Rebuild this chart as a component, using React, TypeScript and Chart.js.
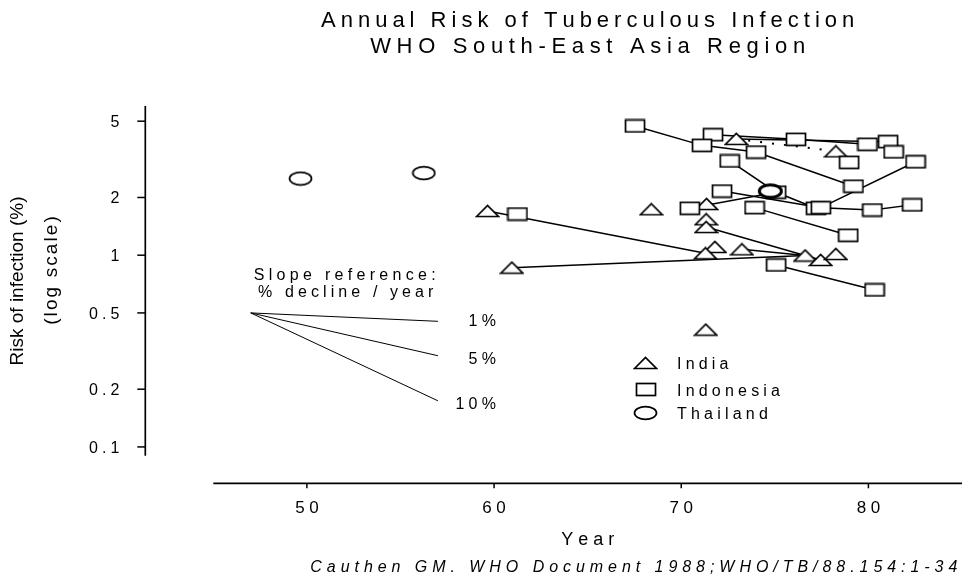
import React, { useEffect, useRef } from "react";
import { Chart, registerables } from "chart.js";

Chart.register(...registerables);

const FONT = '"Liberation Sans", Arial, Helvetica, sans-serif';

const TITLE_LINES = ["Annual Risk of Tuberculous Infection", "WHO South-East Asia Region"];
const X_TITLE = "Year";
const Y_TITLE_LINES = ["Risk of infection (%)", "(log scale)"];
const CITATION = "Cauthen GM. WHO Document 1988;WHO/TB/88.154:1-34";
const X_TICKS = [50, 60, 70, 80];
const Y_TICKS = [0.1, 0.2, 0.5, 1, 2, 5];
const Y_TICK_LABELS = ["0.1", "0.2", "0.5", "1", "2", "5"];
const LEGEND_LABELS = ["India", "Indonesia", "Thailand"];

// Survey points
const INDIA_YEAR = [59.65, 60.95, 68.4, 71.35, 71.33, 71.33, 71.8, 71.29, 73.24, 76.62, 77.45, 78.26, 71.31, 72.94, 78.26];
const INDIA_RISK = [1.7, 0.861, 1.736, 1.849, 1.539, 1.403, 1.104, 1.023, 1.073, 0.996, 0.944, 1.014, 0.409, 4.04, 3.48];

const INDONESIA_YEAR = [67.53, 71.7, 71.11, 74.0, 76.13, 79.95, 81.05, 81.35, 78.97, 82.52, 72.59, 79.2, 72.18, 75.07, 73.92, 77.2, 77.46, 80.21, 82.34, 70.46, 61.25, 78.92, 75.07, 80.33];
const INDONESIA_RISK = [4.72, 4.25, 3.74, 3.45, 4.02, 3.79, 3.91, 3.46, 3.05, 3.07, 3.1, 2.29, 2.16, 2.13, 1.77, 1.757, 1.77, 1.72, 1.83, 1.757, 1.64, 1.27, 0.889, 0.659];

const THAILAND_YEAR = [49.66, 56.25, 74.76];
const THAILAND_RISK = [2.51, 2.68, 2.16];

// Lines joining repeated surveys of the same area
const LINK_YEARS = [
  [67.53, 71.11, 74.0, 79.2],
  [71.7, 76.13, 79.95],
  [72.94, 81.05],
  [82.52, 77.46],
  [72.59, 75.07, 77.2],
  [72.18, 77.46, 80.21, 82.34],
  [70.46, 75.07],
  [73.92, 78.92],
  [75.07, 80.33],
  [59.65, 71.29],
  [60.95, 76.62],
  [71.33, 77.45],
  [73.24, 76.62],
];
const LINK_RISKS = [
  [4.72, 3.74, 3.45, 2.29],
  [4.25, 4.02, 3.79],
  [4.04, 3.91],
  [3.07, 1.77],
  [3.1, 2.13, 1.757],
  [2.16, 1.77, 1.72, 1.83],
  [1.757, 2.13],
  [1.77, 1.27],
  [0.889, 0.659],
  [1.7, 1.023],
  [0.861, 0.996],
  [1.403, 0.944],
  [1.073, 0.996],
];
const DOTTED_YEARS = [72.94, 78.26];
const DOTTED_RISKS = [4.04, 3.48];

// Slope reference lines
const SLOPE_YEARS = [47, 57];
const SLOPE_RISKS = [
  [0.5, 0.452],
  [0.5, 0.299],
  [0.5, 0.174],
];
const SLOPE_LABELS = ["1%", "5%", "10%"];
const SLOPE_TITLE = ["Slope reference:", "% decline / year"];

function pts(xs: number[], ys: number[]) {
  return xs.map((x, i) => ({ x, y: ys[i] }));
}

function makeCanvas(w: number, h: number, draw: (c: CanvasRenderingContext2D) => void) {
  const cv = document.createElement("canvas");
  cv.width = w;
  cv.height = h;
  const c = cv.getContext("2d")!;
  c.fillStyle = "#fff";
  c.strokeStyle = "#000";
  draw(c);
  return cv;
}

function drawSpaced(
  ctx: CanvasRenderingContext2D,
  text: string,
  x: number,
  y: number,
  font: string,
  spacing: number,
  align: "left" | "center" | "right"
) {
  ctx.font = font;
  const chars = Array.from(text);
  const widths = chars.map((c) => ctx.measureText(c).width);
  const total = widths.reduce((a, b) => a + b, 0) + spacing * (chars.length - 1);
  let cx = align === "center" ? x - total / 2 : align === "right" ? x - total : x;
  ctx.textAlign = "left";
  chars.forEach((c, i) => {
    ctx.fillText(c, cx, y);
    cx += widths[i] + spacing;
  });
}

export default function App() {
  const ref = useRef<HTMLCanvasElement | null>(null);

  useEffect(() => {
    if (!ref.current) return;

    const tri = makeCanvas(25, 14, (c) => {
      c.lineWidth = 1.7;
      c.beginPath();
      c.moveTo(1.5, 12.5);
      c.lineTo(12.5, 1.4);
      c.lineTo(23.5, 12.5);
      c.closePath();
      c.fill();
      c.stroke();
    });
    const sq = makeCanvas(22, 15, (c) => {
      c.lineWidth = 1.7;
      c.fillRect(1.5, 1.5, 19, 12);
      c.strokeRect(1.5, 1.5, 19, 12);
    });
    const circ = makeCanvas(25, 16, (c) => {
      c.lineWidth = 1.7;
      c.beginPath();
      c.ellipse(12.5, 8, 11, 6.3, 0, 0, Math.PI * 2);
      c.fill();
      c.stroke();
    });
    const circBold = makeCanvas(27, 18, (c) => {
      c.lineWidth = 3;
      c.beginPath();
      c.ellipse(13.5, 9, 11, 6.3, 0, 0, Math.PI * 2);
      c.fill();
      c.stroke();
    });

    const legendMarkers = [tri, sq, circ];

    const linkSets = LINK_YEARS.map((ys, i) => ({
      label: "link" + i,
      data: pts(ys, LINK_RISKS[i]),
      showLine: true,
      borderColor: "#000",
      borderWidth: 1.5,
      pointRadius: 0,
      fill: false,
      order: 10,
    }));

    const slopeSets = SLOPE_RISKS.map((r, i) => ({
      label: "slope" + SLOPE_LABELS[i],
      data: pts(SLOPE_YEARS, r),
      showLine: true,
      borderColor: "#000",
      borderWidth: 1,
      pointRadius: 0,
      fill: false,
      order: 10,
    }));

    const overlay = {
      id: "overlay",
      afterDraw(chart: any) {
        const { ctx, chartArea: ca, scales } = chart;
        const xs = scales.x;
        const ys = scales.y;
        ctx.save();
        ctx.fillStyle = "#000";
        ctx.strokeStyle = "#000";
        ctx.textBaseline = "alphabetic";
        const mid = (ca.left + ca.right) / 2;

        // Title
        drawSpaced(ctx, TITLE_LINES[0], mid, 27, `22px ${FONT}`, 5.0, "center");
        drawSpaced(ctx, TITLE_LINES[1], mid, 53.3, `22px ${FONT}`, 5.66, "center");

        // Y axis
        const ax = ca.left - 68;
        ctx.lineWidth = 1.7;
        ctx.beginPath();
        ctx.moveTo(ax, ca.top);
        ctx.lineTo(ax, ca.bottom);
        ctx.stroke();
        ctx.lineWidth = 1.5;
        Y_TICKS.forEach((v, i) => {
          const py = ys.getPixelForValue(v);
          ctx.beginPath();
          ctx.moveTo(ax - 8, py);
          ctx.lineTo(ax, py);
          ctx.stroke();
          drawSpaced(ctx, Y_TICK_LABELS[i], ax - 26, py + 6, `16px ${FONT}`, 4, "right");
        });

        // X axis
        const ay = ca.bottom + 27.6;
        ctx.lineWidth = 1.7;
        ctx.beginPath();
        ctx.moveTo(ca.left, ay);
        ctx.lineTo(ca.right, ay);
        ctx.stroke();
        ctx.lineWidth = 1.5;
        X_TICKS.forEach((v) => {
          const px = xs.getPixelForValue(v);
          ctx.beginPath();
          ctx.moveTo(px, ay);
          ctx.lineTo(px, ay + 5);
          ctx.stroke();
          drawSpaced(ctx, String(v), px, ay + 29.3, `17px ${FONT}`, 4.5, "center");
        });
        drawSpaced(ctx, X_TITLE, mid, ay + 62, `18px ${FONT}`, 5, "center");
        drawSpaced(ctx, CITATION, ca.left + 97, 571.5, `italic 16px ${FONT}`, 4.95, "left");

        // Y axis title (rotated)
        ctx.save();
        ctx.translate(17.5, 281);
        ctx.rotate(-Math.PI / 2);
        ctx.textBaseline = "middle";
        drawSpaced(ctx, Y_TITLE_LINES[0], 0, 0, `19px ${FONT}`, 0, "center");
        ctx.restore();
        ctx.save();
        ctx.translate(51.7, 270.5);
        ctx.rotate(-Math.PI / 2);
        ctx.textBaseline = "middle";
        drawSpaced(ctx, Y_TITLE_LINES[1], 0, 0, `19px ${FONT}`, 2.1, "center");
        ctx.restore();

        // Slope reference annotation
        const sx0 = xs.getPixelForValue(SLOPE_YEARS[0]);
        const sx1 = xs.getPixelForValue(SLOPE_YEARS[1]);
        const sy0 = ys.getPixelForValue(SLOPE_RISKS[0][0]);
        drawSpaced(ctx, SLOPE_TITLE[0], sx0 + 94, sy0 - 33, `16px ${FONT}`, 4.3, "center");
        drawSpaced(ctx, SLOPE_TITLE[1], sx0 + 95, sy0 - 16, `16px ${FONT}`, 4.1, "center");
        const labelDy = [5, 8.4, 7.8];
        SLOPE_LABELS.forEach((lab, i) => {
          const py = ys.getPixelForValue(SLOPE_RISKS[i][1]);
          drawSpaced(ctx, lab, sx1 + 58, py + labelDy[i], `16px ${FONT}`, 4.2, "right");
        });

        // Legend
        const legX = 645.5;
        const legY = [363, 389.5, 412.5];
        LEGEND_LABELS.forEach((lab, i) => {
          const m = legendMarkers[i];
          ctx.drawImage(m, Math.round(legX - m.width / 2), Math.round(legY[i] - m.height / 2));
          drawSpaced(ctx, lab, 677, legY[i] + 6, `16px ${FONT}`, 4.2, "left");
        });

        ctx.restore();
      },
    };

    const chart = new Chart(ref.current, {
      type: "scatter",
      data: {
        datasets: [
          {
            label: "Thailand",
            data: pts(THAILAND_YEAR, THAILAND_RISK),
            pointStyle: [circ, circ, circBold] as any,
            pointRadius: 10,
            order: 1,
          },
          {
            label: "Indonesia",
            data: pts(INDONESIA_YEAR, INDONESIA_RISK),
            pointStyle: sq as any,
            pointRadius: 10,
            order: 2,
          },
          {
            label: "India",
            data: pts(INDIA_YEAR, INDIA_RISK),
            pointStyle: tri as any,
            pointRadius: 10,
            order: 3,
          },
          {
            label: "dotted",
            data: pts(DOTTED_YEARS, DOTTED_RISKS),
            showLine: true,
            borderColor: "#000",
            borderWidth: 2,
            borderDash: [2, 10],
            pointRadius: 0,
            fill: false,
            order: 10,
          },
          ...linkSets,
          ...slopeSets,
        ] as any,
      },
      options: {
        animation: false,
        responsive: false,
        devicePixelRatio: 1,
        events: [],
        layout: { padding: { left: 213.3, right: 8.1, top: 106, bottom: 127.3 } },
        scales: {
          x: { type: "linear", min: 45, max: 85, display: false },
          y: { type: "logarithmic", min: 0.09, max: 6, display: false },
        },
        plugins: {
          legend: { display: false },
          tooltip: { enabled: false },
          title: { display: false },
        },
      } as any,
      plugins: [overlay],
    });

    return () => chart.destroy();
  }, []);

  return (
    <div style={{ position: "absolute", left: 0, top: 0, width: 973, height: 583, background: "#fff" }}>
      <canvas ref={ref} width={973} height={583} style={{ display: "block" }} />
    </div>
  );
}
